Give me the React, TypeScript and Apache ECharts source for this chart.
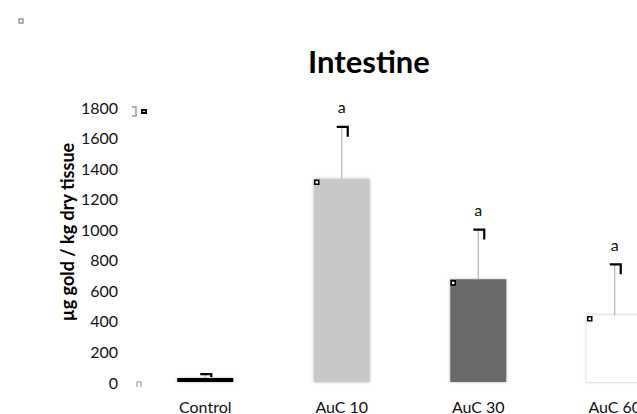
import React, { useEffect, useRef } from "react";
import * as echarts from "echarts";

const categories = ["Control", "AuC 10", "AuC 30", "AuC 60"];
const means = [26, 1330, 672, 437];
const errorTops = [52, 1670, 998, 770];
const sigLabels = ["", "a", "a", "a"];
const barColors = ["#000000", "#c8c8c8", "#6b6b6b", "#ffffff"];
const cornerMarks = [false, true, true, true];
const yTicks = { min: 0, max: 1800, interval: 200 };

const FONT = "Lato, 'Open Sans', sans-serif";

export default function App() {
  const ref = useRef<HTMLDivElement>(null);
  useEffect(() => {
    if (!ref.current) return;
    const chart = echarts.init(ref.current, null, { renderer: "svg" });
    const errData = categories.map((c, i) => [i, means[i], errorTops[i]]);
    chart.setOption({
      animation: false,
      backgroundColor: "#ffffff",
      title: {
        text: "Intestine",
        left: 364,
        top: 40,
        textAlign: "center",
        textStyle: { fontFamily: FONT, fontSize: 31, fontWeight: "bold", color: "#000" },
      },
      grid: { left: 137, right: 17, top: 107, bottom: 31, containLabel: false },
      xAxis: {
        type: "category",
        data: categories,
        axisLine: { show: false },
        axisTick: { show: false },
        axisLabel: { margin: 16, fontFamily: FONT, fontSize: 16, color: "#111" },
      },
      yAxis: {
        type: "value",
        min: yTicks.min,
        max: yTicks.max,
        interval: yTicks.interval,
        axisLine: { show: false },
        axisTick: { show: false },
        splitLine: { show: false },
        axisLabel: {
          margin: 19,
          fontFamily: FONT,
          fontSize: 16,
          color: "#111",
          formatter: (v: number) => String(v),
        },
      },
      graphic: [
        {
          type: "text",
          x: 67,
          y: 232,
          rotation: Math.PI / 2,
          style: {
            text: "µg gold / kg dry tissue",
            fontFamily: FONT,
            fontSize: 18,
            fontWeight: "bold",
            fill: "#000",
            textAlign: "center",
            textVerticalAlign: "middle",
          },
        },
        { type: "rect", shape: { x: 19, y: 19, width: 4, height: 4 }, style: { fill: "none", stroke: "#999", lineWidth: 1.5 } },
        { type: "polyline", shape: { points: [[132, 107], [136, 107], [136, 116], [132, 116]] }, style: { fill: "none", stroke: "#999", lineWidth: 1.5 } },
        { type: "rect", shape: { x: 142, y: 110, width: 4, height: 3 }, style: { fill: "none", stroke: "#000", lineWidth: 1.8 } },
        { type: "polyline", shape: { points: [[137, 387], [137, 382], [141, 382], [141, 387]] }, style: { fill: "none", stroke: "#999", lineWidth: 1.2 } },
      ],
      series: [
        {
          type: "bar",
          data: means.map((v, i) => ({ value: v, itemStyle: { color: barColors[i] } })),
          barWidth: 56,
          itemStyle: { shadowBlur: 3, shadowColor: "rgba(0,0,0,0.3)", shadowOffsetX: 0, shadowOffsetY: 0 },
        },
        {
          type: "custom",
          data: errData,
          z: 5,
          renderItem: (params: any, api: any) => {
            const idx = api.value(0);
            const p0 = api.coord([idx, api.value(1)]);
            const p1 = api.coord([idx, api.value(2)]);
            const label = sigLabels[params.dataIndex];
            const mark = cornerMarks[params.dataIndex];
            const x = p0[0];
            const children: any[] = [
              { type: "line", shape: { x1: x, y1: p0[1], x2: x, y2: p1[1] }, style: { stroke: "#a6a6a6", lineWidth: 1 } },
              {
                type: "polyline",
                shape: { points: [[x - 5, p1[1]], [x + 6, p1[1]], [x + 6, p1[1] + Math.min(10, p0[1] - p1[1] - 1)]] },
                style: { fill: "none", stroke: "#000", lineWidth: 2.2 },
              },
            ];
            if (label) {
              children.push({
                type: "text",
                x: x,
                y: p1[1] - 20,
                style: { text: label, fontFamily: FONT, fontSize: 16, fill: "#111", textAlign: "center", textVerticalAlign: "middle" },
              });
            }
            if (mark) {
              children.push({
                type: "rect",
                shape: { x: x - 27, y: p0[1] + 1.5, width: 4, height: 4 },
                style: { fill: "#fff", stroke: "#000", lineWidth: 1.6 },
              });
            }
            return { type: "group", children };
          },
        },
      ],
    });
    return () => chart.dispose();
  }, []);
  return (
    <div style={{ position: "fixed", left: 0, top: 0, width: 637, height: 414, overflow: "hidden", background: "#fff" }}>
      <div ref={ref} style={{ width: 700, height: 414 }} />
    </div>
  );
}
